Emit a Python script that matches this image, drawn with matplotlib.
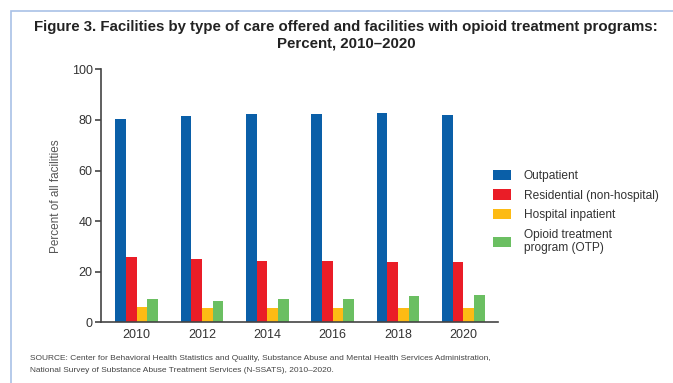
import numpy as np
import matplotlib
matplotlib.use("Agg")
import matplotlib.pyplot as plt
import matplotlib.patches as patches

plt.rcParams['font.family'] = ['Liberation Sans', 'DejaVu Sans']

# data
years = ['2010', '2012', '2014', '2016', '2018', '2020']
outpatient = [80.5, 81.4, 82.2, 82.2, 82.6, 81.8]
residential = [25.9, 24.9, 24.4, 24.1, 23.8, 23.8]
hospital = [5.9, 5.7, 5.7, 5.5, 5.5, 5.8]
otp = [9.1, 8.4, 9.3, 9.1, 10.4, 10.9]

series_names = ['Outpatient', 'Residential (non-hospital)', 'Hospital inpatient',
                'Opioid treatment\nprogram (OTP)']
series_colors = ['#0A5FA8', '#EA1D27', '#FDBB14', '#6BBF62']

fig = plt.figure(figsize=(6.73, 3.83), dpi=100)
ax = fig.add_axes([101 / 673, 1 - 322.3 / 383, 397 / 673, 253 / 383])

x = np.arange(len(years))
w = 0.164
all_series = [outpatient, residential, hospital, otp]
for i, (vals, name, col) in enumerate(zip(all_series, series_names, series_colors)):
    ax.bar(x + (i - 1.5) * w, vals, width=w, color=col, label=name)

ax.set_xlim(-0.547, 5.53)
ax.set_ylim(0, 100)
ax.set_yticks([0, 20, 40, 60, 80, 100])
ax.set_xticks(x)
ax.set_xticklabels(years)
ax.spines['top'].set_visible(False)
ax.spines['right'].set_visible(False)
for sp in ['left', 'bottom']:
    ax.spines[sp].set_color('#444444')
    ax.spines[sp].set_linewidth(1.2)
ax.tick_params(axis='y', length=4, width=1.2, color='#444444', labelsize=9, labelcolor='#333333', pad=2)
ax.tick_params(axis='x', length=0, labelsize=9, labelcolor='#333333', pad=5)
ax.set_ylabel('Percent of all facilities', fontsize=8.5, color='#555555', labelpad=7)

leg = ax.legend(loc='upper left', bbox_to_anchor=(0.975, 0.622), frameon=False, fontsize=8.6,
                handlelength=1.55, handleheight=0.95, handletextpad=1.05, labelspacing=0.62,
                borderaxespad=0)
for t in leg.get_texts():
    t.set_color('#333333')
    t.set_linespacing(1.15)

fig.text(346 / 673, 1 - 27 / 383, 'Figure 3. Facilities by type of care offered and facilities with opioid treatment programs:',
         ha='center', va='center', fontsize=10.8, fontweight='bold', color='#222222')
fig.text(346 / 673, 1 - 44 / 383, 'Percent, 2010\u20132020',
         ha='center', va='center', fontsize=10.8, fontweight='bold', color='#222222')

fig.text(30 / 673, 1 - 358 / 383,
         'SOURCE: Center for Behavioral Health Statistics and Quality, Substance Abuse and Mental Health Services Administration,',
         ha='left', va='center', fontsize=6.0, color='#444444')
fig.text(30 / 673, 1 - 371 / 383,
         'National Survey of Substance Abuse Treatment Services (N-SSATS), 2010\u20132020.',
         ha='left', va='center', fontsize=6.0, color='#444444')

# light border frame
rect = patches.Rectangle((11 / 673, -0.05), 1.0, 1 - 11 / 383 + 0.05, transform=fig.transFigure,
                         fill=False, edgecolor='#A9C1E6', linewidth=1.2)
fig.patches.append(rect)

fig.savefig('out.png', dpi=100)
